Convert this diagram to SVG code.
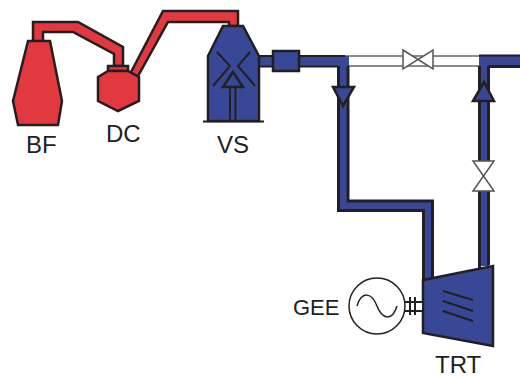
<svg xmlns="http://www.w3.org/2000/svg" width="520" height="378" viewBox="0 0 520 378">
<style>
.r{fill:#e2383f;stroke:#231f20;stroke-width:2.500;stroke-linejoin:miter}
.b{fill:#394896;stroke:#231f20;stroke-width:2.500}
.l{fill:none;stroke:#231f20;stroke-width:2}
.p{fill:none;stroke:#231f20;stroke-width:3}
.v{fill:#fff;stroke:#555;stroke-width:1.500}
.w{fill:#fff;stroke:#666;stroke-width:1.500}
.t{font-family:"Liberation Sans",Arial,sans-serif;font-size:24px;fill:#231f20}
</style>
<g id="connectors">
<polygon class="r" points="33,42 33,22 78,22 123,47 123,66 114,66 114,54 73,32 43,32 43,42"/>
<polygon class="r" points="130,74 163,11 238,11 238,26 229,26 229,22 168,22 138,76"/>
<rect class="w" x="345" y="56" width="135" height="10"/>
<polygon fill="#394896" points="259,56 349,56 349,66 259,66"/>
<path class="l" d="M259,56H345M259,66.500H338"/>
<polygon fill="#394896" points="338,60 348,60 348,200 433,200 433,279 423,279 423,210 338,210"/>
<path class="p" d="M338.500,66V210.500H423.500V281M348,66V201H432.500V278"/>
<polygon fill="#394896" points="479,56 520,56 520,66 489,66 489,161 479,161"/>
<polygon fill="#394896" points="479,191 489,191 489,266 479,266"/>
<path d="M479,55.500H520" class="l" stroke-width="1.500"/>
<path class="p" d="M488.500,66.500H520M488.500,66V161M479.500,66V161M479.500,191V268M488.500,191V265"/>
<polygon class="b" points="333,87 354,87 343,106"/>
<polygon class="b" points="473,101 484,82 494,101"/>
</g>
<g id="BF"><polygon class="r" points="28,41 50,41 62,101 58,125 18,125 13,101"/><text class="t" x="26" y="153">BF</text></g>
<g id="DC">
<rect class="r" x="108" y="66" width="20" height="5"/>
<polygon class="r" points="98,77 108,71 128,71 139,77 139,101 118,111 98,101"/>
<text class="t" x="106" y="142">DC</text></g>
<g id="VS">
<polygon class="b" points="208,56 223,26 243,26 259,56 259,121 208,121"/>
<path class="l" d="M203,121.500H264M217,52L230,66L213,86M250,52L238,66L255,86M230,87V121M235.500,87V121"/>
<polygon class="b" points="223,87 233,72 243,87" stroke-width="2"/>
<text class="t" x="217" y="153">VS</text></g>
<g id="box"><rect class="b" x="273" y="51" width="26" height="20"/></g>
<g id="valve-h"><polygon class="v" points="403,50 433,69 433,50 403,69"/></g>
<g id="valve-v"><polygon class="v" points="473,161 494,161 473,191 494,191"/></g>
<g id="TRT">
<polygon class="b" points="423,280 493,266 493,346 423,333" stroke-width="1.500"/>
<path class="l" d="M443,291L473,300M443,301L473,311M443,311L473,321"/>
<text class="t" x="435" y="373">TRT</text></g>
<g id="GEE">
<rect x="403" y="302" width="20" height="9" fill="#fff" stroke="#231f20" stroke-width="2"/>
<path class="l" d="M410,297V315M415,297V315"/>
<circle cx="377" cy="306" r="28" fill="#fff" stroke="#231f20" stroke-width="1.500"/>
<path d="M357,306C362,290 372,293 377,306C382,319 392,322 397,306" fill="none" stroke="#231f20" stroke-width="1.500"/>
<text class="t" x="293" y="315" style="font-size:22px">GEE</text></g>
</svg>
